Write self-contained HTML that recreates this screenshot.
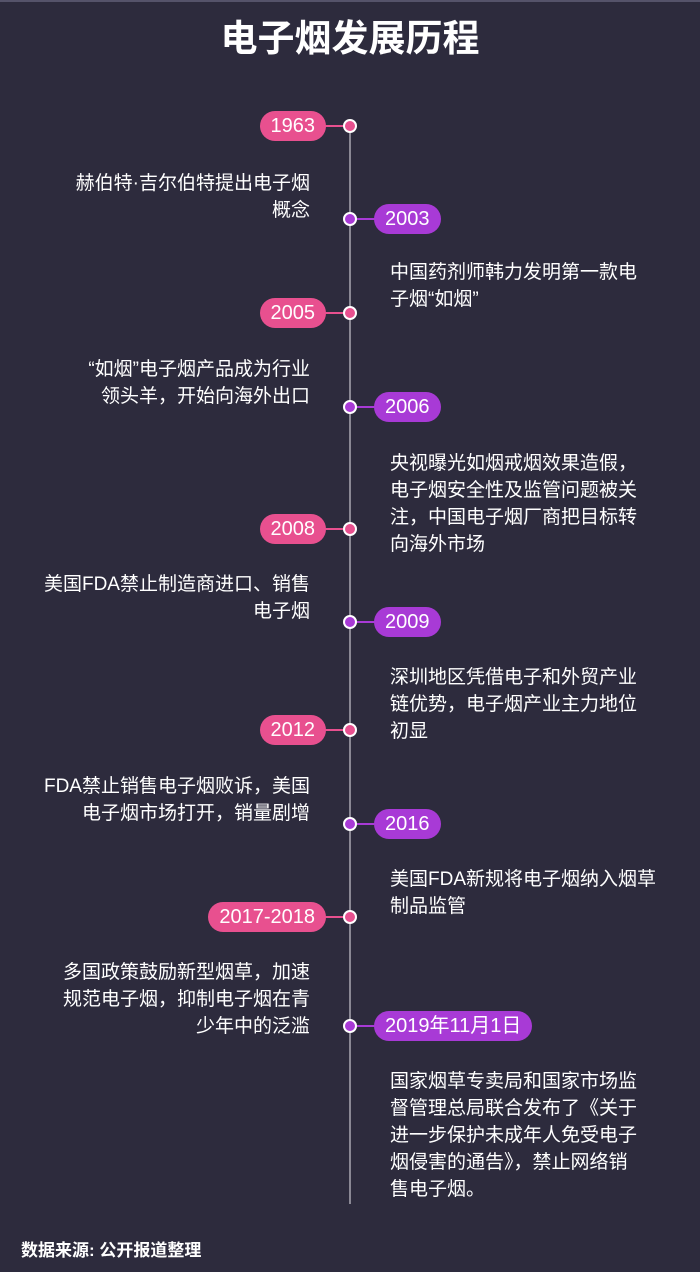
<!DOCTYPE html>
<html><head><meta charset="utf-8"><style>
*{margin:0;padding:0;box-sizing:border-box}
body{width:700px;height:1272px;background:#2d2b3d;position:relative;overflow:hidden;font-family:"Liberation Sans","Noto Sans CJK SC",sans-serif;color:#fff;border-top:2px solid #55536a}
.t{position:absolute;top:13px;left:0;width:700px;text-align:center;font-size:37px;font-weight:bold;line-height:48px}
.line{position:absolute;left:349px;top:124px;width:2px;height:1078px;background:#8a8894}
.dot{position:absolute;width:14px;height:14px;border-radius:50%;border:2px solid #fff;left:343px}
.p{position:absolute;height:30px;line-height:30px;border-radius:15px;font-size:20px;padding:0 11px;white-space:nowrap}
.pk{background:#e8508f}.pu{background:#a83ad6}
.c{position:absolute;height:2px}
.tx{position:absolute;font-size:19px;line-height:27px;white-space:nowrap}
.l{right:390px;text-align:right}
.r{left:390px}
.src{position:absolute;left:21px;top:1234px;font-size:17px;font-weight:bold}
</style></head><body>
<div class="t">电子烟发展历程</div>
<div class="line"></div>

<div class="c pk" style="left:320px;width:26px;top:123px"></div>
<div class="p pk" style="right:374px;top:109px">1963</div>
<div class="dot pk" style="top:117px"></div>
<div class="tx l" style="top:168px">赫伯特·吉尔伯特提出电子烟<br>概念</div>

<div class="c pu" style="left:354px;width:26px;top:216px"></div>
<div class="p pu" style="left:374px;top:202px">2003</div>
<div class="dot pu" style="top:210px"></div>
<div class="tx r" style="top:257px">中国药剂师韩力发明第一款电<br>子烟“如烟”</div>

<div class="c pk" style="left:320px;width:26px;top:310px"></div>
<div class="p pk" style="right:374px;top:296px">2005</div>
<div class="dot pk" style="top:304px"></div>
<div class="tx l" style="top:354px">“如烟”电子烟产品成为行业<br>领头羊，开始向海外出口</div>

<div class="c pu" style="left:354px;width:26px;top:404px"></div>
<div class="p pu" style="left:374px;top:390px">2006</div>
<div class="dot pu" style="top:398px"></div>
<div class="tx r" style="top:448px">央视曝光如烟戒烟效果造假，<br>电子烟安全性及监管问题被关<br>注，中国电子烟厂商把目标转<br>向海外市场</div>

<div class="c pk" style="left:320px;width:26px;top:526px"></div>
<div class="p pk" style="right:374px;top:512px">2008</div>
<div class="dot pk" style="top:520px"></div>
<div class="tx l" style="top:569px">美国FDA禁止制造商进口、销售<br>电子烟</div>

<div class="c pu" style="left:354px;width:26px;top:619px"></div>
<div class="p pu" style="left:374px;top:605px">2009</div>
<div class="dot pu" style="top:613px"></div>
<div class="tx r" style="top:662px">深圳地区凭借电子和外贸产业<br>链优势，电子烟产业主力地位<br>初显</div>

<div class="c pk" style="left:320px;width:26px;top:727px"></div>
<div class="p pk" style="right:374px;top:713px">2012</div>
<div class="dot pk" style="top:721px"></div>
<div class="tx l" style="top:771px">FDA禁止销售电子烟败诉，美国<br>电子烟市场打开，销量剧增</div>

<div class="c pu" style="left:354px;width:26px;top:821px"></div>
<div class="p pu" style="left:374px;top:807px">2016</div>
<div class="dot pu" style="top:815px"></div>
<div class="tx r" style="top:864px">美国FDA新规将电子烟纳入烟草<br>制品监管</div>

<div class="c pk" style="left:320px;width:26px;top:914px"></div>
<div class="p pk" style="right:374px;top:900px">2017-2018</div>
<div class="dot pk" style="top:908px"></div>
<div class="tx l" style="top:957px">多国政策鼓励新型烟草，加速<br>规范电子烟，抑制电子烟在青<br>少年中的泛滥</div>

<div class="c pu" style="left:354px;width:26px;top:1023px"></div>
<div class="p pu" style="left:374px;top:1009px">2019年11月1日</div>
<div class="dot pu" style="top:1017px"></div>
<div class="tx r" style="top:1066px">国家烟草专卖局和国家市场监<br>督管理总局联合发布了《关于<br>进一步保护未成年人免受电子<br>烟侵害的通告》，禁止网络销<br>售电子烟。</div>

<div class="src">数据来源: 公开报道整理</div>
</body></html>
